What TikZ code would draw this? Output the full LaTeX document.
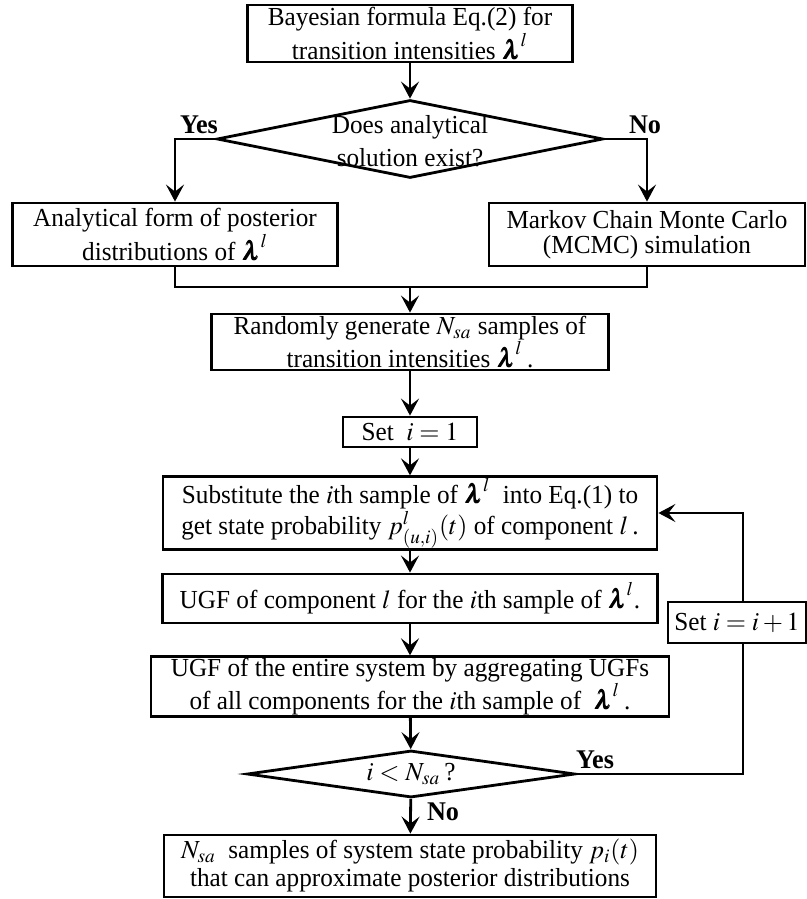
\documentclass[tikz,border=0pt]{standalone}
\usepackage{amsmath}
\usepackage{mathptmx}
\usepackage{bm}
\usepackage{fontspec}
\setmainfont{Liberation Serif}[FakeStretch=0.97]
\usetikzlibrary{shapes.geometric,arrows.meta,positioning}

\begin{document}
\begin{tikzpicture}[x=0.5pt, y=-0.5pt,
    line width=1.4pt,
    >={Stealth[length=8.5pt, width=9pt, inset=3.5pt]},
    procbox/.style={rectangle, draw, align=center, inner xsep=2pt, inner ysep=0.5pt, font=\fontsize{13}{12.5}\selectfont},
    decision/.style={diamond, draw, inner sep=0pt},
    txt/.style={align=center, inner sep=0pt, font=\fontsize{13}{16.5}\selectfont},
    answer/.style={inner sep=0pt, font=\fontsize{13.5}{14}\selectfont\bfseries}]
    \useasboundingbox (0,0) rectangle (807,899);

    % posterior of the intensities
    \node[procbox, minimum width=162.5pt, minimum height=28.5pt] (bayes) at (410,33.5) {Bayesian formula Eq.(2) for\\ transition intensities $\bm{\lambda}^{l}$};
    \node[decision, minimum width=193pt, minimum height=39pt] (exist) at (410,139) {};
    \node[txt] (existtxt) at (410,141) {Does analytical\\solution exist?};
    \node[procbox, minimum width=162.5pt, minimum height=31.5pt] (analytic) at (175,234.5) {Analytical form of posterior\\ distributions of $\bm{\lambda}^{l}$};
    \node[procbox, minimum width=158pt, minimum height=31.5pt] (mcmc) at (647,234.5) {Markov Chain Monte Carlo\\(MCMC) simulation};
    \coordinate (merge) at (410,287);

    % sampling loop
    \node[procbox, minimum width=198.5pt, minimum height=28pt] (sample) at (410,342) {Randomly generate $N_{sa}$ samples of\\ transition intensities $\bm{\lambda}^{l}$\,.};
    \node[procbox, minimum width=67pt, minimum height=15pt] (init) at (410,432) {Set \ $i=1$};
    \node[procbox, minimum width=247pt, minimum height=32pt] (subst) at (410,513) {Substitute the $i$th sample of $\bm{\lambda}^{l}$ \ into Eq.(1) to\\ get state probability $p^{l}_{(u,i)}(t)$ of component $l$\,.};
    \node[procbox, minimum width=247.5pt, minimum height=24.5pt] (ugfcomp) at (410,598.5) {UGF of component $l$ for the $i$th sample of $\bm{\lambda}^{l}$.};
    \node[procbox, minimum width=259pt, minimum height=28.5pt] (ugfsys) at (410,686.5) {UGF of the entire system by aggregating UGFs\\ of all components for the $i$th sample of \ $\bm{\lambda}^{l}$\,.};
    \node[decision, minimum width=164pt, minimum height=23.5pt] (check) at (411,774) {};
    \node[txt] (checktxt) at (check.center) {$i<N_{sa}$\,?};
    \node[procbox, minimum width=69pt, minimum height=20.5pt] (incr) at (737,622.5) {Set $i=i+1$};
    \node[procbox, minimum width=246pt, minimum height=31pt] (result) at (410,866) {$N_{sa}$ \ samples of system state probability $p_{i}(t)$\\[1.5pt] that can approximate posterior distributions};
    \coordinate (loopx) at (743,774);

    \node[answer] (yes1) at (199,125) {Yes};
    \node[answer] (no1) at (645,125) {No};
    \node[answer] (yes2) at (595,760) {Yes};
    \node[answer] (no2) at (443,812) {No};

    \draw[->] (bayes) -- (exist);
    \draw[->] (exist.west) -| (analytic.north);
    \draw[->] (exist.east) -| (mcmc.north);
    \draw (analytic.south) |- (merge) -| (mcmc.south);
    \draw[->] (merge) -- (sample);
    \draw[->] (sample) -- (init);
    \draw[->] (init) -- (subst);
    \draw[->] (subst) -- (ugfcomp);
    \draw[->] (ugfcomp) -- (ugfsys);
    \draw[->] (ugfsys) -- (check);
    \draw[->] (check) -- (result);
    \draw (check.east) -- (loopx) -- (incr.south -| loopx);
    \draw[->] (incr.north -| loopx) |- (subst.east);
\end{tikzpicture}
\end{document}
